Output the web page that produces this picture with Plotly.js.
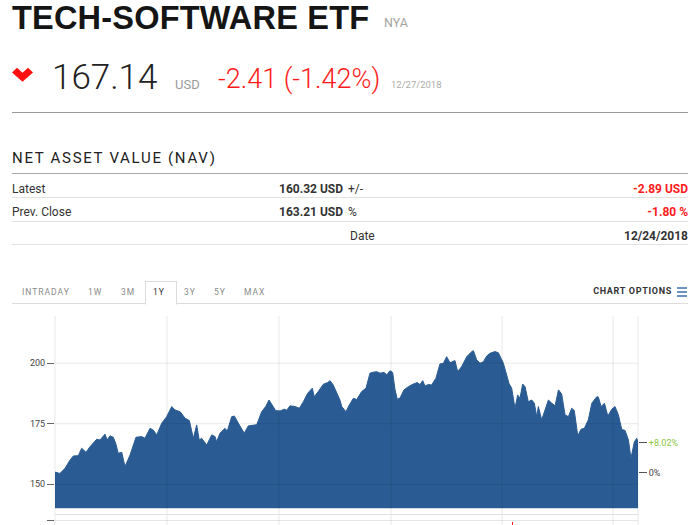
<!DOCTYPE html>
<html>
<head>
<meta charset="utf-8">
<script src="https://cdn.plot.ly/plotly-3.0.1.min.js"></script>
<style>
  html, body { margin:0; padding:0; background:#fff; }
  body { width:700px; height:525px; overflow:hidden; position:relative; font-family:Roboto, "Liberation Sans", Arial, sans-serif; }
  #chart { position:absolute; left:0; top:0; width:700px; height:525px; z-index:0; }
  .t { position:absolute; line-height:1; white-space:nowrap; z-index:2; }
  .hl { position:absolute; height:1px; z-index:2; }
</style>
</head>
<body>
<div id="chart"></div>

<!-- header -->
<div class="t" style="left:12px; top:2px; font-family:'Liberation Sans', Arial, sans-serif; font-size:32.5px; font-weight:700; color:#151515; letter-spacing:0.2px;">TECH-SOFTWARE ETF</div>
<div class="t" style="left:384px; top:17px; font-size:12.5px; color:#a3a3a3;">NYA</div>

<svg style="position:absolute; left:0; top:0; z-index:2;" width="60" height="100">
  <polygon points="12,72.5 17,67.8 22.5,72.8 28,67.8 33,72.5 22.5,81.8" fill="#ff1010"/>
</svg>
<div class="t" style="left:52px; top:59.5px; font-size:35px; font-weight:300; color:#222;">167.14</div>
<div class="t" style="left:175px; top:77.7px; font-size:13px; color:#9a9a9a;">USD</div>
<div class="t" style="left:218px; top:65.8px; font-size:27px; font-weight:300; color:#ff1a1a;">-2.41 (-1.42%)</div>
<div class="t" style="left:391px; top:79.5px; font-size:9.5px; color:#ababab;">12/27/2018</div>
<div class="hl" style="left:12px; top:112px; width:676px; background:#9a9a9a;"></div>

<!-- NAV -->
<div class="t" style="left:12px; top:150.5px; font-size:15px; color:#222; letter-spacing:1.7px;">NET ASSET VALUE (NAV)</div>
<div class="hl" style="left:12px; top:173px; width:676px; background:#a8a8a8;"></div>

<div class="t" style="left:12px; top:182.5px; font-size:12px; color:#333;">Latest</div>
<div class="t" style="right:357px; top:182.5px; font-size:12px; font-weight:700; color:#333;">160.32 USD</div>
<div class="t" style="left:348px; top:182.5px; font-size:12px; color:#333;">+/-</div>
<div class="t" style="right:12px; top:182.5px; font-size:12px; font-weight:700; color:#ff1a1a;">-2.89 USD</div>
<div class="hl" style="left:12px; top:197px; width:676px; background:#e2e2e2;"></div>

<div class="t" style="left:12px; top:206px; font-size:12px; color:#333;">Prev. Close</div>
<div class="t" style="right:357px; top:206px; font-size:12px; font-weight:700; color:#333;">163.21 USD</div>
<div class="t" style="left:348px; top:206px; font-size:12px; color:#333;">%</div>
<div class="t" style="right:12px; top:206px; font-size:12px; font-weight:700; color:#ff1a1a;">-1.80 %</div>
<div class="hl" style="left:12px; top:221px; width:676px; background:#e2e2e2;"></div>

<div class="t" style="left:350px; top:229.5px; font-size:12px; color:#333;">Date</div>
<div class="t" style="right:12px; top:229.5px; font-size:12px; font-weight:700; color:#333;">12/24/2018</div>
<div class="hl" style="left:12px; top:244px; width:676px; background:#e2e2e2;"></div>

<!-- tabs -->
<div class="hl" style="left:12px; top:303px; width:676px; background:#dcdcdc;"></div>
<div style="position:absolute; left:145px; top:281px; width:30px; height:22px; border:1px solid #dcdcdc; border-bottom:1px solid #fff; background:#fff; z-index:2;"></div>
<div class="t" style="left:22px; top:287.5px; font-size:8.5px; color:#8a8a8a; letter-spacing:1px;">INTRADAY</div>
<div class="t" style="left:88px; top:287.5px; font-size:8.5px; color:#8a8a8a; letter-spacing:1px;">1W</div>
<div class="t" style="left:121px; top:287.5px; font-size:8.5px; color:#8a8a8a; letter-spacing:1px;">3M</div>
<div class="t" style="left:153px; top:287.5px; font-size:8.5px; color:#333; letter-spacing:1px; z-index:3;">1Y</div>
<div class="t" style="left:184px; top:287.5px; font-size:8.5px; color:#8a8a8a; letter-spacing:1px;">3Y</div>
<div class="t" style="left:214px; top:287.5px; font-size:8.5px; color:#8a8a8a; letter-spacing:1px;">5Y</div>
<div class="t" style="left:244px; top:287.5px; font-size:8.5px; color:#8a8a8a; letter-spacing:1px;">MAX</div>
<div class="t" style="right:28px; top:287px; font-size:9px; font-weight:700; color:#333; letter-spacing:0.7px;">CHART OPTIONS</div>
<div class="hl" style="left:677px; top:287px; width:10px; height:1.5px; background:#6b93c4;"></div>
<div class="hl" style="left:677px; top:291px; width:10px; height:1.5px; background:#6b93c4;"></div>
<div class="hl" style="left:677px; top:295px; width:10px; height:1.5px; background:#6b93c4;"></div>

<script>
// ---- data (days since start of the 1Y window, NAV price) ----
var days = [0,3.1,6.3,9.4,11.5,14.6,16.7,19.4,21.9,26.1,28.2,31.3,32.7,34.4,36.5,38.0,39.6,41.8,43.8,47.0,
  50.7,54.3,56.3,59.5,61.5,63.7,66.8,69.9,73.1,75.1,78.3,81.4,84.1,86.6,88.7,90.3,91.8,95.0,98.1,100.2,
  101.2,103.3,106.4,107.9,110.6,112.3,114.8,118.5,121.0,124.2,126.3,129.4,131.9,134.0,136.1,138.2,140.9,143.6,145.1,147.1,
  150.3,153.0,155.5,158.2,161.1,162.3,164.8,168.0,170.7,172.2,174.2,177.0,178.4,179.5,182.2,184.3,186.8,188.9,192.0,194.7,
  197.2,199.3,201.4,203.5,206.0,207.7,209.7,211.4,212.9,214.3,216.0,218.5,221.2,224.3,226.8,228.5,230.2,231.7,233.7,235.8,
  238.5,241.0,243.1,245.2,247.3,250.4,252.1,254.6,257.8,260.3,261.9,264.0,266.1,268.2,270.3,272.3,275.5,277.6,279.2,280.7,
  282.2,284.2,285.9,288.0,289.7,291.1,292.8,294.3,296.3,298.5,300.1,301.6,302.6,304.7,306.8,308.9,311.0,313.1,315.2,317.2,
  319.3,321.4,323.5,325.1,327.3,329.3,331.4,333.9,336.1,339.2,340.2,341.9,344.0,346.1,348.6,350.6,352.7,354.8,356.9,359.0,
  360.6,362.7,364.2,365.0];
var nav = [155.0,154.5,156.6,160.0,161.7,161.8,164.9,163.2,165.5,168.6,168.3,170.7,168.3,170.0,169.4,166.9,162.8,163.2,157.3,162.1,
  169.4,169.7,169.0,173.1,172.4,170.4,175.2,177.9,182.1,180.7,180.0,177.3,176.3,169.0,174.5,168.3,169.0,166.2,170.4,169.7,
  167.6,171.1,173.1,172.0,177.9,178.2,175.2,171.1,174.1,174.5,174.6,180.0,182.1,184.8,182.8,180.4,180.3,181.0,180.6,182.4,
  182.1,181.4,184.1,187.6,189.7,186.2,188.3,191.3,192.0,192.8,191.0,186.9,184.8,182.1,180.0,182.8,185.5,185.0,188.3,189.7,
  195.9,196.3,196.5,195.9,196.2,195.2,196.9,196.2,189.0,185.1,185.6,189.0,190.3,191.4,192.0,191.2,192.8,190.6,191.2,191.0,
  193.8,199.7,199.9,202.7,200.2,201.1,196.5,198.6,202.7,204.4,205.2,201.4,200.0,200.6,203.0,204.1,204.8,204.3,202.1,200.0,
  196.5,191.7,189.7,181.4,186.9,185.5,191.4,190.3,184.1,184.8,183.5,177.9,182.1,176.6,180.7,184.8,183.5,182.4,189.0,187.3,
  178.7,177.9,181.4,180.5,170.0,172.7,173.1,176.6,183.5,186.2,186.0,182.1,183.5,178.2,181.0,182.1,178.7,172.7,172.2,168.3,
  160.7,167.5,169.0,167.2];
var priceTicks = [150, 175, 200];
var pctTickVals = [167.2, 154.8];
var pctTickText = ['+8.02%', '0%'];
var volDays = [286.4];
var volValues = [296000];
var volTickVals = [300000];
var volTickText = ['0.3M'];
var gridDays = [70.1, 140.2, 210.4, 279.9, 349.4];

// ---- geometry (page pixels) ----
var W = 700, H = 525;
var L = 55, R = 638, T = 316, B = 508, VT = 514.5;
var xdom = [L / W, R / W];
var ydom = [1 - B / H, 1 - T / H];
var vdom = [0, 1 - VT / H];
var yr = [140.2, 219.5];
var grid = 'rgba(0,0,0,0.09)';

var shapes = [];
gridDays.forEach(function (g) {
  shapes.push({type:'line', xref:'x', yref:'paper', x0:g, x1:g, y0:0, y1:ydom[1], line:{color:grid, width:1}, layer:'above'});
});
[L, R].forEach(function (px) {
  shapes.push({type:'line', xref:'paper', yref:'paper', x0:px / W, x1:px / W, y0:0, y1:ydom[1], line:{color:grid, width:1}, layer:'above'});
});
priceTicks.forEach(function (v) {
  shapes.push({type:'line', xref:'paper', yref:'y', x0:xdom[0], x1:xdom[1], y0:v, y1:v, line:{color:grid, width:1}, layer:'above'});
});
shapes.push({type:'line', xref:'paper', yref:'paper', x0:xdom[0], x1:xdom[1], y0:vdom[1], y1:vdom[1], line:{color:'#e2e2e2', width:1}, layer:'above'});

var pctText = pctTickText.map(function (t, i) {
  return i === 0 ? '<span style="color:#8dc63f">' + t + '</span>' : t;
});

var traces = [
  {x:days, y:nav, type:'scatter', mode:'lines', fill:'tozeroy', fillcolor:'#2a5c93',
   line:{color:'#2a5c93', width:1}, hoverinfo:'skip', xaxis:'x', yaxis:'y'},
  {x:[days[0]], y:[nav[0]], type:'scatter', mode:'lines', line:{color:'rgba(0,0,0,0)'}, hoverinfo:'skip', xaxis:'x', yaxis:'y3'},
  {x:volDays, y:volValues, type:'bar', marker:{color:'#ff1a1a'}, width:1, hoverinfo:'skip', xaxis:'x2', yaxis:'y2'}
];

var tf = {family:'Roboto, Arial, sans-serif', size:9, color:'#444'};
var layout = {
  width:W, height:H, margin:{l:0, r:0, t:0, b:0, pad:0},
  paper_bgcolor:'rgba(0,0,0,0)', plot_bgcolor:'#fff', showlegend:false,
  xaxis:{domain:xdom, range:[0, 365], anchor:'y', showgrid:false, zeroline:false, showticklabels:false,
         ticks:'', showline:true, linecolor:'#cfd9e4', linewidth:1},
  yaxis:{domain:ydom, range:yr, anchor:'x', tickvals:priceTicks, ticks:'outside', ticklen:7, tickwidth:1,
         tickcolor:'#666', tickfont:tf, showgrid:false, zeroline:false, showline:false},
  yaxis3:{overlaying:'y', side:'right', anchor:'x', range:yr, tickvals:pctTickVals, ticktext:pctText,
          ticks:'outside', ticklen:8, tickwidth:1, tickcolor:'#555', tickfont:tf, showgrid:false, zeroline:false, showline:false},
  xaxis2:{domain:xdom, range:[0, 365], anchor:'y2', showgrid:false, zeroline:false, showticklabels:false, ticks:''},
  yaxis2:{domain:vdom, range:[280000, 330000], anchor:'x2', tickvals:volTickVals, ticktext:volTickText,
          ticks:'outside', ticklen:7, tickwidth:1, tickcolor:'#666', tickfont:tf, showgrid:true, gridcolor:'#e6e6e6',
          zeroline:false, showline:false},
  bargap:0,
  shapes:shapes
};
Plotly.newPlot('chart', traces, layout, {staticPlot:true, displayModeBar:false});
</script>
</body>
</html>
